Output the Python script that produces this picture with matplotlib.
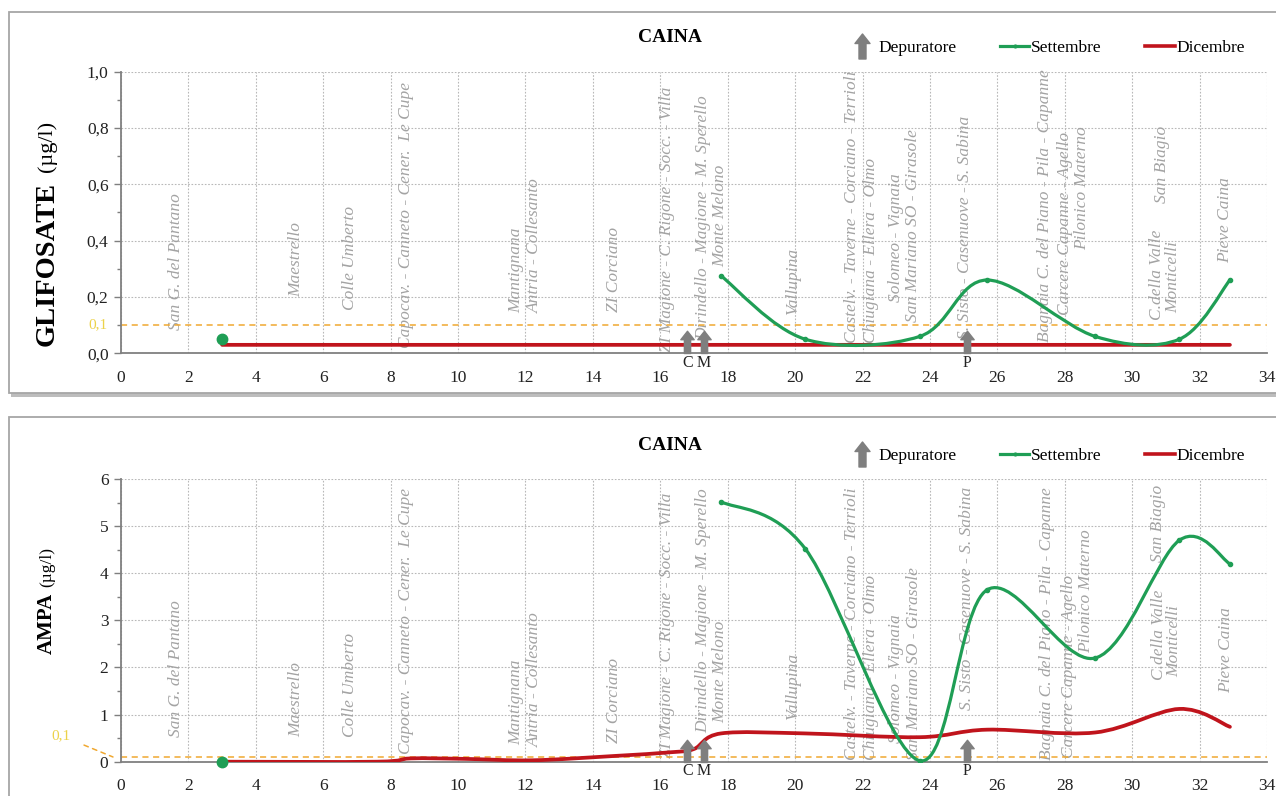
import numpy as np
import matplotlib
matplotlib.use("Agg")
import matplotlib.pyplot as plt
from matplotlib.path import Path
from matplotlib.patches import PathPatch, Rectangle
from matplotlib.lines import Line2D

plt.rcParams['font.family'] = ['Liberation Serif', 'DejaVu Serif']

# ---------------- data ----------------
title = "CAINA"
legend_labels = ["Depuratore", "Settembre", "Dicembre"]

# Glifosate (µg/l)
glif_sett_single_x = [3.0]
glif_sett_single_y = [0.05]
glif_sett_x = [17.8, 20.3, 23.7, 25.7, 28.9, 31.4, 32.9]
glif_sett_y = [0.275, 0.05, 0.06, 0.26, 0.06, 0.05, 0.26]
glif_dic_x = [3.0, 7.6, 8.6, 10.2, 12.2, 14.6, 16.3, 17.0, 17.8, 20.3, 23.7, 25.7, 28.9, 31.4, 32.9]
glif_dic_y = [0.03] * 15

# AMPA (µg/l)
ampa_sett_single_x = [3.0]
ampa_sett_single_y = [0.0]
ampa_sett_x = [17.8, 20.3, 23.7, 25.7, 28.9, 31.4, 32.9]
ampa_sett_y = [5.52, 4.52, 0.02, 3.65, 2.2, 4.7, 4.2]
ampa_dic_x = [3.0, 7.6, 8.6, 10.2, 12.2, 14.6, 16.3, 17.0, 17.8, 20.3, 23.7, 25.7, 28.9, 31.4, 32.9]
ampa_dic_y = [0.0, 0.0, 0.07, 0.06, 0.03, 0.12, 0.2, 0.27, 0.6, 0.6, 0.52, 0.68, 0.62, 1.12, 0.74]

limit_value = 0.1
limit_label = "0,1"

depuratori_x = [16.8, 17.3, 25.1]
depuratori_lab = ["C", "M", "P"]

x_ticks = list(range(0, 35, 2))
glif_yticks = [0.0, 0.2, 0.4, 0.6, 0.8, 1.0]
glif_yticklabels = ["0,0", "0,2", "0,4", "0,6", "0,8", "1,0"]
ampa_yticks = [0, 1, 2, 3, 4, 5, 6]
ampa_yticklabels = ["0", "1", "2", "3", "4", "5", "6"]

stations = ["San G. del Pantano", "Maestrello", "Colle Umberto",
            "Capocav. - Canneto - Cener.  Le Cupe", "Mantignana", "Antria - Collesanto",
            "ZI Corciano", "ZI Magione - C. Rigone - Socc. - Villa",
            "Dirindello - Magione - M. Sperello", "Monte Melono", "Vallupina",
            "Castelv. - Taverne - Corciano - Terrioli", "Chiugiana - Ellera - Olmo",
            "Solomeo - Vignaia", "San Mariano SO - Girasole",
            "S. Sisto - Casenuove - S. Sabina", "Bagnaia C. del Piano - Pila - Capanne",
            "Carcere Capanne - Agello", "Pilonico Materno", "C.della Valle",
            "Monticelli", "San Biagio", "Pieve Caina"]
top_lab_x = [1.62, 5.19, 6.8, 8.46, 11.73, 12.28, 14.64, 16.19, 17.26, 17.77, 19.94,
             21.7, 22.25, 23.0, 23.5, 25.05, 27.4, 28.0, 28.52, 30.75, 31.22, 30.87, 32.75]
top_lab_y = [0.083, 0.2, 0.154, 0.019, 0.143, 0.143, 0.147, 0.005, 0.047, 0.306, 0.136,
             0.037, 0.037, 0.182, 0.111, 0.05, 0.04, 0.136, 0.366, 0.118, 0.143, 0.533, 0.32]
bot_lab_x = [1.62, 5.19, 6.8, 8.46, 11.73, 12.28, 14.64, 16.19, 17.26, 17.77, 19.94,
             21.7, 22.25, 23.0, 23.52, 25.09, 27.47, 28.12, 28.64, 30.8, 31.25, 30.77, 32.8]
bot_lab_y = [0.087, 0.087, 0.087, 0.027, 0.059, 0.052, 0.066, 0.013, 0.1, 0.137, 0.148,
             0.006, 0.006, 0.066, 0.006, 0.183, 0.006, 0.013, 0.384, 0.289, 0.3, 0.707, 0.243]

# ---------------- styles ----------------
GREEN = '#1f9e55'
RED = '#c0141c'
GRAY_ARROW = '#7f7f7f'
LIMIT = '#f0a830'
LIMIT_TXT = '#ecd24a'
LABEL_GRAY = '#a3a3a3'

W, H = 1276, 796
fig = plt.figure(figsize=(W / 100, H / 100), dpi=100)
fig.patch.set_facecolor('white')


def panel_frame(top_px, bottom_px):
    y0 = 1 - bottom_px / H
    h = (bottom_px - top_px) / H
    sh = Rectangle((11 / W, y0 - 4 / H), 1.05, h, transform=fig.transFigure,
                   facecolor='#bdbdbd', edgecolor='none', zorder=-3)
    fr = Rectangle((9 / W, y0), 1.05, h, transform=fig.transFigure,
                   facecolor='white', edgecolor='#a6a6a6', lw=1.3, zorder=-2)
    fig.add_artist(sh)
    fig.add_artist(fr)


panel_frame(12, 393)
panel_frame(417, 830)


def smooth_path(xs, ys):
    pts = np.column_stack([xs, ys]).astype(float)
    n = len(pts)
    verts = [pts[0]]
    codes = [Path.MOVETO]
    for i in range(n - 1):
        p0 = pts[i - 1] if i > 0 else pts[i]
        p1 = pts[i]
        p2 = pts[i + 1]
        p3 = pts[i + 2] if i + 2 < n else pts[i + 1]
        c1 = p1 + (p2 - p0) / 6.0
        c2 = p2 - (p3 - p1) / 6.0
        verts += [c1, c2, p2]
        codes += [Path.CURVE4] * 3
    return Path(verts, codes)


# arrow marker (base at origin, pointing up)
arrow_up = Path([(-0.14, 0), (0.14, 0), (0.14, 0.62), (0.3, 0.62), (0, 1.0),
                 (-0.3, 0.62), (-0.14, 0.62), (-0.14, 0)], closed=True)
arrow_leg = Path([(-0.14, -0.5), (0.14, -0.5), (0.14, 0.12), (0.3, 0.12), (0, 0.5),
                  (-0.3, 0.12), (-0.14, 0.12), (-0.14, -0.5)], closed=True)


def draw_panel(ax, ylim, yticks, yticklabels, minor, sx1, sy1, sx, sy, dx, dy,
               lab_x, lab_y, ylabel_bold, ylabel_norm, ylab_fs, ylab_fs2, ylab_y, ylab_gap):
    ax.set_xlim(0, 34)
    ax.set_ylim(*ylim)
    ax.set_xticks(x_ticks)
    ax.set_xticklabels([str(t) for t in x_ticks])
    ax.set_yticks(yticks)
    ax.set_yticklabels(yticklabels)
    ax.set_yticks(minor, minor=True)
    ax.tick_params(axis='both', labelsize=12.5, colors='#222222', length=5,
                   width=1, direction='out', pad=4)
    ax.tick_params(axis='x', length=0, pad=12)
    ax.tick_params(axis='y', which='minor', length=3, width=1, colors='#7f7f7f')
    ax.tick_params(axis='y', which='major', colors='#7f7f7f', labelcolor='#222222')
    for s in ['top', 'right']:
        ax.spines[s].set_visible(False)
    for s in ['left', 'bottom']:
        ax.spines[s].set_color('#808080')
        ax.spines[s].set_linewidth(1.3)
    ax.grid(True, which='major', color='#b8b8b8', linestyle=(0, (1.5, 1.5)), lw=0.8)
    ax.set_axisbelow(True)

    # station labels
    for name, lx, ly in zip(stations, lab_x, lab_y):
        ax.text(lx, ly, name, transform=ax.get_xaxis_transform(), rotation=90,
                ha='center', va='bottom', fontsize=12.5, style='italic',
                color=LABEL_GRAY, zorder=1)

    # limit line
    ax.axhline(limit_value, color=LIMIT, lw=1.1, ls=(0, (4, 3)), zorder=2)

    # series
    ax.add_patch(PathPatch(smooth_path(dx, dy), facecolor='none', edgecolor=RED,
                           lw=2.7, zorder=4, capstyle='round'))
    ax.add_patch(PathPatch(smooth_path(sx, sy), facecolor='none', edgecolor=GREEN,
                           lw=2.3, zorder=5, capstyle='round'))
    ax.plot(sx, sy, ls='none', marker='o', ms=3, color=GREEN, zorder=6)
    ax.plot(sx1, sy1, ls='none', marker='o', ms=7.5, color=GREEN, zorder=6, clip_on=False)

    # depuratori arrows
    xt = ax.get_xaxis_transform()
    for px, pl in zip(depuratori_x, depuratori_lab):
        ax.plot([px], [0], transform=xt, marker=arrow_up, ms=32, color=GRAY_ARROW,
                ls='none', zorder=7, clip_on=False)
        ax.text(px, -0.005, pl, transform=xt, ha='center', va='top', fontsize=11.5,
                color='#222222', zorder=7)

    # title
    ax.text(0.479, 1.12, title, transform=ax.transAxes, ha='center', va='center',
            fontsize=14, fontweight='bold')

    # legend
    handles = [Line2D([], [], ls='none', marker=arrow_leg, ms=18, color=GRAY_ARROW),
               Line2D([], [], color=GREEN, lw=2.3, marker='o', ms=2, markevery=[1]),
               Line2D([], [], color=RED, lw=2.6)]
    ax.legend(handles, legend_labels, ncol=3, loc='center left',
              bbox_to_anchor=(0.6335, 1.083), frameon=False, fontsize=12.5,
              handlelength=1.7, handletextpad=0.1, columnspacing=2.5,
              borderaxespad=0, borderpad=0)

    # y-label (bold + normal)
    t1 = ax.text(-0.0645, ylab_y, ylabel_bold, transform=ax.transAxes, rotation=90,
                 ha='center', va='bottom', fontsize=ylab_fs, fontweight='bold')
    ax.annotate(ylabel_norm, xy=(0.5, 1.0), xycoords=t1, xytext=(0, ylab_gap),
                textcoords='offset points', rotation=90, ha='center', va='bottom',
                fontsize=ylab_fs2)
    return ax


ax1 = fig.add_axes([121 / W, 1 - 353.3 / H, 1146 / W, 281.8 / H])
draw_panel(ax1, (0, 1.0), glif_yticks, glif_yticklabels, np.arange(0, 1.01, 0.1),
           glif_sett_single_x, glif_sett_single_y, glif_sett_x, glif_sett_y,
           glif_dic_x, glif_dic_y, top_lab_x, top_lab_y,
           "GLIFOSATE", "(µg/l)", 20.5, 16, 0.025, 7)
ax1.text(-0.012, limit_value, limit_label, transform=ax1.get_yaxis_transform(),
         ha='right', va='center', fontsize=11, color=LIMIT_TXT)

ax2 = fig.add_axes([121 / W, 1 - 761.7 / H, 1146 / W, 282.7 / H])
draw_panel(ax2, (0, 6), ampa_yticks, ampa_yticklabels, np.arange(0, 6.01, 0.5),
           ampa_sett_single_x, ampa_sett_single_y, ampa_sett_x, ampa_sett_y,
           ampa_dic_x, ampa_dic_y, bot_lab_x, bot_lab_y,
           "AMPA", "(µg/l)", 15, 12.5, 0.38, 4)
ax2.annotate(limit_label, xy=(-0.007, limit_value), xycoords=ax2.get_yaxis_transform(),
             xytext=(-0.052, 0.55), textcoords=ax2.get_yaxis_transform(),
             ha='center', va='center', fontsize=11, color=LIMIT_TXT,
             arrowprops=dict(arrowstyle='-', color=LIMIT, lw=1.1, ls=(0, (3, 3)),
                             shrinkA=8, shrinkB=0))

fig.savefig("out.png", dpi=100, facecolor='white')
